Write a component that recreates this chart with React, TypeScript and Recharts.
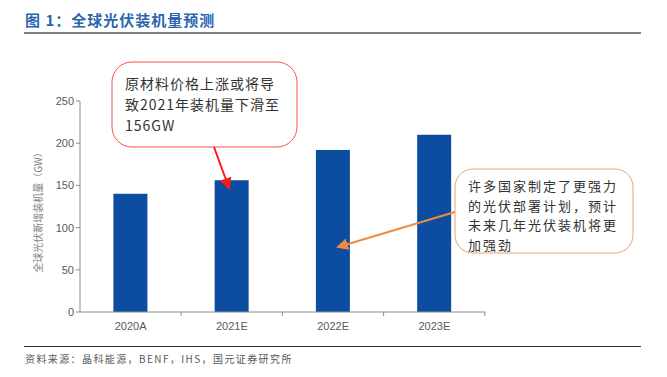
import React from "react";
import { BarChart, Bar, XAxis, YAxis } from "recharts";

const years: string[] = ["2020A", "2021E", "2022E", "2023E"];
const installs: number[] = [140, 156, 192, 210];
const yTicks: number[] = [0, 50, 100, 150, 200, 250];

const chartData = years.map((year, i) => ({ year, value: installs[i] }));

const CJK = '"Noto Sans CJK SC", "Noto Sans", sans-serif';
const AXIS = "#8c8c8c";

const XTick = (props: any) => {
  const { x, y, payload } = props;
  const half = 50.5;
  return (
    <g>
      <line x1={x + half} x2={x + half} y1={y - 8} y2={y - 4} stroke={AXIS} />
      <text x={x} y={y + 10} textAnchor="middle" fill="#595959" fontSize={11} fontFamily="Liberation Sans, Arial, sans-serif">
        {payload.value}
      </text>
    </g>
  );
};

const App: React.FC = () => {
  return (
    <div style={{ position: "absolute", left: 0, top: 0, width: 667, height: 377, background: "#fff", fontFamily: CJK }}>
      <div style={{ position: "absolute", left: 25, top: 9, fontSize: 15, fontWeight: 700, color: "#2b66ae", letterSpacing: 1 }}>
        图 1：全球光伏装机量预测
      </div>
      <div style={{ position: "absolute", left: 24, top: 32, width: 617, height: 2, background: "#7f7f7f" }} />

      <BarChart
        width={667}
        height={377}
        data={chartData}
        margin={{ top: 101, right: 182, bottom: 35, left: 40 }}
        barCategoryGap="33%"
      >
        <XAxis
          dataKey="year"
          stroke={AXIS}
          tickLine={false}
          tick={<XTick />}
          height={30}
        />
        <YAxis
          domain={[0, 250]}
          ticks={yTicks}
          width={40}
          stroke={AXIS}
          tickSize={4}
          tick={{ fill: "#595959", fontSize: 11, fontFamily: "Liberation Sans, Arial, sans-serif" }}
          interval={0}
        />
        <Bar dataKey="value" fill="#0c4da2" isAnimationActive={false} />
      </BarChart>

      <div
        style={{
          position: "absolute",
          left: 37,
          top: 210,
          transform: "translate(-50%, -50%) rotate(-90deg)",
          whiteSpace: "nowrap",
          fontSize: 10,
          color: "#7f7f7f",
        }}
      >
        全球光伏新增装机量（GW）
      </div>

      <svg width={667} height={377} style={{ position: "absolute", left: 0, top: 0, pointerEvents: "none" }}>
        <defs>
          <marker id="ar" markerWidth="6" markerHeight="6" refX="5" refY="3" orient="auto">
            <path d="M0,0 L6,3 L0,6 z" fill="#ff1a1a" />
          </marker>
          <marker id="ao" markerWidth="6" markerHeight="6" refX="5" refY="3" orient="auto">
            <path d="M0,0 L6,3 L0,6 z" fill="#f08a3c" />
          </marker>
        </defs>
        <rect x={112} y={62} width={185} height={85} rx={20} fill="#fff" stroke="#ff4d4d" strokeWidth={1} />
        <line x1={214} y1={147} x2={229} y2={188} stroke="#ff1a1a" strokeWidth={2} markerEnd="url(#ar)" />
        <rect x={455} y={169} width={178} height={84} rx={18} fill="#fff" stroke="#f4a06a" strokeWidth={1} />
        <line x1={455} y1={212} x2={338} y2={247} stroke="#f08a3c" strokeWidth={2} markerEnd="url(#ao)" />
      </svg>

      <div style={{ position: "absolute", left: 125, top: 73, fontSize: 14, letterSpacing: 1, lineHeight: "21px", color: "#333", whiteSpace: "nowrap" }}>
        原材料价格上涨或将导
        <br />
        致2021年装机量下滑至
        <br />
        156GW
      </div>
      <div style={{ position: "absolute", left: 468, top: 176, fontSize: 13, letterSpacing: 2, lineHeight: "19.5px", color: "#333", whiteSpace: "nowrap" }}>
        许多国家制定了更强力
        <br />
        的光伏部署计划，预计
        <br />
        未来几年光伏装机将更
        <br />
        加强劲
      </div>

      <div style={{ position: "absolute", left: 24, top: 346, width: 617, height: 1, background: "#333" }} />
      <div style={{ position: "absolute", left: 25, top: 351, fontSize: 10, letterSpacing: 1.4, color: "#595959" }}>
        资料来源：晶科能源，BENF，IHS，国元证券研究所
      </div>
    </div>
  );
};

export default App;
